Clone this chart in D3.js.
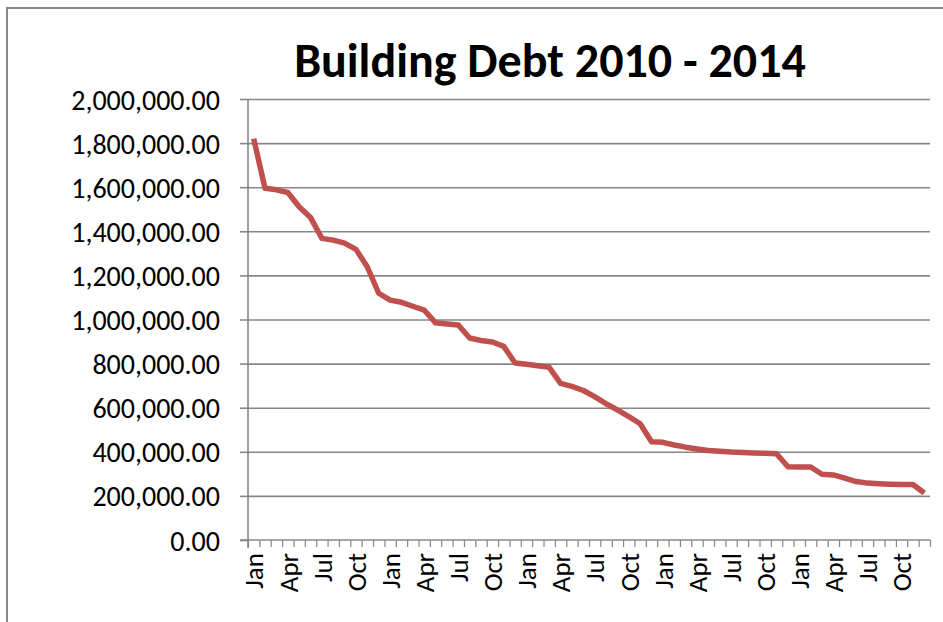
<!DOCTYPE html>
<html>
<head>
<meta charset="utf-8">
<script src="https://cdn.jsdelivr.net/npm/d3@7"></script>
<style>
  html, body { margin: 0; padding: 0; background: #fff; }
  svg { display: block; }
  text { font-family: Carlito, "Liberation Sans", Arial, sans-serif; fill: #000; }
</style>
</head>
<body>
<svg id="chart" width="943" height="622"></svg>
<script>
const title = "Building Debt 2010 - 2014";
const years = [2010, 2011, 2012, 2013, 2014];
const monthNames = ["Jan","Feb","Mar","Apr","May","Jun","Jul","Aug","Sep","Oct","Nov","Dec"];
const labelMonths = ["Jan","Apr","Jul","Oct"];
const debt = [
  1820000, 1595000, 1588000, 1576000, 1511000, 1463000, 1368000, 1360000, 1346000, 1318000, 1238000, 1119000,
  1088000, 1078000, 1060000, 1043000, 985000, 980000, 975000, 916000, 905000, 898000, 878000, 803000,
  797000, 790000, 783000, 710000, 697000, 678000, 650000, 618000, 590000, 560000, 527000, 446000,
  443000, 431000, 421000, 413000, 406000, 403000, 399000, 397000, 395000, 393000, 391000, 332000,
  331000, 331000, 298000, 295000, 281000, 265000, 258000, 255000, 253000, 252000, 252000, 213000
];
const yTicks = [0, 200000, 400000, 600000, 800000, 1000000, 1200000, 1400000, 1600000, 1800000, 2000000];

const categories = [];
years.forEach(yr => monthNames.forEach(m => categories.push({ key: yr + "-" + m, month: m })));
const data = categories.map((c, i) => ({ key: c.key, month: c.month, value: debt[i] }));

const svg = d3.select("#chart");
const mLeft = 248, mRight = 930, mTop = 99, mBottom = 540;

// outer chart border
svg.append("rect")
  .attr("x", 7).attr("y", 8).attr("width", 1000).attr("height", 1000)
  .attr("fill", "none").attr("stroke", "#888").attr("stroke-width", 2);

const x = d3.scaleBand().domain(categories.map(c => c.key)).range([mLeft, mRight]).padding(0);
const xEdge = d3.scaleLinear().domain([0, categories.length]).range([mLeft, mRight]);
const y = d3.scaleLinear().domain([0, 2000000]).range([mBottom, mTop]);

// gridlines
svg.append("g")
  .attr("transform", `translate(${mLeft},0)`)
  .call(d3.axisLeft(y).tickValues(yTicks.filter(v => v > 0)).tickSize(-(mRight - mLeft)).tickFormat(""))
  .call(g => g.select(".domain").remove())
  .call(g => g.selectAll("line").attr("stroke", "#878787").attr("stroke-width", 1.6));

// y axis
const yAxis = svg.append("g")
  .attr("transform", `translate(${mLeft},0)`)
  .call(d3.axisLeft(y).tickValues(yTicks).tickSize(8).tickPadding(20).tickFormat(d3.format(",.2f")));
yAxis.select(".domain").attr("stroke", "#878787").attr("stroke-width", 1.6)
  .attr("d", `M0,${mTop}V${mBottom + 8}`);
yAxis.selectAll("line").attr("stroke", "#878787").attr("stroke-width", 1.6);
yAxis.selectAll("text").attr("font-size", 28).attr("dy", "0.36em");

// x axis minor ticks at category boundaries
const xTicks = svg.append("g")
  .attr("transform", `translate(0,${mBottom})`)
  .call(d3.axisBottom(xEdge).tickValues(d3.range(categories.length + 1)).tickSize(7).tickFormat(""));
xTicks.select(".domain").attr("stroke", "#878787").attr("stroke-width", 1.6)
  .attr("d", `M${mLeft - 8},0H${mRight}`);
xTicks.selectAll("line").attr("stroke", "#878787").attr("stroke-width", 1.2);

// x labels
const xLabels = svg.append("g")
  .attr("transform", `translate(0,${mBottom})`)
  .call(d3.axisBottom(x)
    .tickValues(categories.filter(c => labelMonths.includes(c.month)).map(c => c.key))
    .tickSize(0)
    .tickFormat(k => k.split("-")[1]));
xLabels.select(".domain").remove();
xLabels.selectAll("text")
  .attr("font-size", 27)
  .attr("text-anchor", "end")
  .attr("transform", "rotate(-90)")
  .attr("x", -13)
  .attr("y", 0)
  .attr("dy", "0.36em");

// line
const line = d3.line()
  .x(d => x(d.key) + x.bandwidth() / 2)
  .y(d => y(d.value));
svg.append("path")
  .datum(data)
  .attr("fill", "none")
  .attr("stroke", "#C0504D")
  .attr("stroke-width", 5.5)
  .attr("stroke-linejoin", "round")
  .attr("d", line);

// title
svg.append("text")
  .attr("x", 550).attr("y", 77)
  .attr("text-anchor", "middle")
  .attr("font-size", 48)
  .attr("font-weight", "bold")
  .text(title);
</script>
</body>
</html>
